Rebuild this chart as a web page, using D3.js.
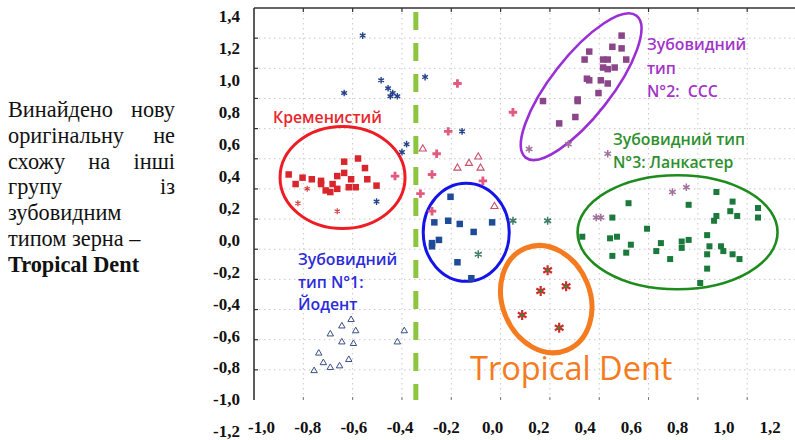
<!DOCTYPE html>
<html><head><meta charset="utf-8">
<script src="https://cdn.jsdelivr.net/npm/d3@7"></script>
<style>body{margin:0;background:#fff}svg{display:block}
.axlab text{font-family:"Liberation Serif","Times New Roman",serif !important;font-weight:bold !important;font-size:17px !important;fill:#111 !important}
</style>
</head><body><svg id="c" width="795" height="440"></svg>
<script>
// ---- tick labels ----
const xTicks = [-1.0,-0.8,-0.6,-0.4,-0.2,0.0,0.2,0.4,0.6,0.8,1.0,1.2];
const yTicks = [1.4,1.2,1.0,0.8,0.6,0.4,0.2,0.0,-0.2,-0.4,-0.6,-0.8,-1.0,-1.2];

// ---- series ----
const redX = [-0.88,-0.82,-0.78,-0.74,-0.69,-0.64,-0.64,-0.58,-0.55,-0.54,-0.61,-0.50,-0.70,-0.67,-0.62,-0.85,-0.74,-0.59,-0.67,-0.72];
const redY = [0.42,0.40,0.39,0.36,0.36,0.50,0.43,0.52,0.46,0.39,0.39,0.35,0.31,0.33,0.34,0.36,0.38,0.34,0.41,0.32];

const purpleX = [0.56,0.52,0.56,0.42,0.40,0.48,0.50,0.48,0.50,0.53,0.58,0.41,0.42,0.47,0.50,0.46,0.37,0.37,0.22,0.36,0.29];
const purpleY = [1.29,1.22,1.21,1.19,1.14,1.14,1.14,1.09,1.08,1.09,1.14,1.02,1.01,1.01,0.99,0.93,0.89,0.88,0.88,0.78,0.74];

const greenX = [0.59,0.85,0.97,1.04,1.03,1.06,1.15,1.15,0.96,0.97,0.52,0.67,0.39,0.51,0.54,0.60,0.58,0.52,0.73,0.71,0.77,0.82,0.85,0.82,0.93,0.94,0.93,0.99,1.00,1.04,1.07,0.93,0.90];
const greenY = [0.24,0.23,0.31,0.25,0.19,0.16,0.21,0.15,0.13,0.16,0.15,0.08,0.03,0.02,0.03,-0.02,-0.07,-0.09,-0.01,-0.06,-0.11,0.00,0.01,-0.04,0.04,-0.03,-0.08,-0.03,-0.06,-0.08,-0.11,-0.17,-0.26];

const blueX = [-0.18,-0.19,-0.25,-0.14,-0.08,0.00,-0.23,-0.26,-0.26,-0.15,-0.09];
const blueY = [0.28,0.13,0.12,0.11,0.06,0.12,0.01,-0.01,-0.03,-0.13,-0.23];

const tropX = [0.24,0.21,0.32,0.13,0.29];
const tropY = [-0.18,-0.31,-0.28,-0.46,-0.54];

const navyX = [-0.56,-0.29,-0.48,-0.45,-0.43,-0.44,-0.41,-0.64,-0.39,-0.37,-0.50,-0.13];
const navyY = [1.29,1.03,1.01,0.96,0.93,0.91,0.91,0.93,0.56,0.61,0.25,0.69];

const plusX = [-0.15,0.09,-0.19,-0.24,-0.26,-0.42,-0.04,-0.31,-0.26];
const plusY = [0.99,0.81,0.69,0.55,0.42,0.41,0.38,0.30,0.19];

const triX = [-0.30,-0.15,-0.10,-0.06,-0.05,0.01];
const triY = [0.58,0.46,0.49,0.53,0.46,0.22];

const dentX = [-0.61,-0.65,-0.70,-0.59,-0.65,-0.75,-0.62,-0.66,-0.70,-0.77,-0.38,-0.41,-0.73,-0.60];
const dentY = [-0.49,-0.53,-0.58,-0.56,-0.63,-0.70,-0.74,-0.78,-0.79,-0.81,-0.56,-0.63,-0.76,-0.64];

const tealX = [0.09,0.24,-0.06];
const tealY = [0.13,0.13,-0.08];

const mauveX = [0.78,0.84,0.45,0.47,0.33,0.16,0.50];
const mauveY = [0.31,0.34,0.15,0.15,0.61,0.58,0.55];

const redStarX = [-0.84,-0.67,-0.80];
const redStarY = [0.24,0.19,0.33];

const dividerX = -0.33;

// cluster outlines: centre in data units
const clusterNames = ["red","blue","green","purple","orange"];
const clusterCX = [-0.647,-0.112,0.802,0.385,0.234];
const clusterCY = [0.401,0.058,0.058,0.970,-0.361];

const leftText = ["Винайдено нову","оригінальну не","схожу на інші","групу із","зубовидним","типом зерна –","Tropical Dent"];

// ---- drawing ----
const svg = d3.select('#c');
const W = 795, H = 440;
const L = 254, T = 8, B = 400;
const x = d3.scaleLinear().domain([-1.03,1.31]).range([L, W]);
const y = d3.scaleLinear().domain([-0.993,1.463]).range([B, T]);
// original chart frame grid
const gx = d3.scaleLinear().domain([0,11]).range([L, 796.5]);
const gy = d3.scaleLinear().domain([0,13]).range([B, T]);

svg.append('rect').attr('width',W).attr('height',H).attr('fill','#fff');

// grid
const grid = svg.append('g');
d3.range(1,11).forEach(i=>{
  grid.append('line').attr('x1',gx(i)).attr('x2',gx(i)).attr('y1',T).attr('y2',B)
    .attr('stroke','#c8c8c8').attr('stroke-width',1).attr('stroke-dasharray','1.5,3.5');
});
d3.range(1,13).forEach(i=>{
  grid.append('line').attr('x1',L).attr('x2',W).attr('y1',gy(i)).attr('y2',gy(i))
    .attr('stroke','#c8c8c8').attr('stroke-width',1).attr('stroke-dasharray','1.5,3.5');
});
// frame
svg.append('line').attr('x1',L).attr('x2',L).attr('y1',T).attr('y2',B).attr('stroke','#333').attr('stroke-width',1.6);
svg.append('line').attr('x1',L).attr('x2',W).attr('y1',T).attr('y2',T).attr('stroke','#333').attr('stroke-width',1.6);
d3.range(1,13).forEach(i=>{
  svg.append('line').attr('x1',L).attr('x2',L+4).attr('y1',gy(i)).attr('y2',gy(i)).attr('stroke','#333').attr('stroke-width',1.2);
});
d3.range(1,11).forEach(i=>{
  svg.append('line').attr('x1',gx(i)).attr('x2',gx(i)).attr('y1',T).attr('y2',T+4).attr('stroke','#333').attr('stroke-width',1.2);
  svg.append('line').attr('x1',gx(i)).attr('x2',gx(i)).attr('y1',B-3).attr('y2',B).attr('stroke','#777').attr('stroke-width',1);
});

// divider
svg.append('line').attr('x1',x(dividerX)).attr('x2',x(dividerX)).attr('y1',T+4).attr('y2',B)
  .attr('stroke','#8cc63f').attr('stroke-width',5).attr('stroke-dasharray','18,13');

// axes labels
const fmt = d => (d < 0 ? '-' : '') + Math.abs(d).toFixed(1).replace('.', ',');
const serif = '"Liberation Serif", "Times New Roman", serif';
const axFont = g => {
  g.attr('font-family', serif).attr('font-size', 17).attr('font-weight','bold').attr('class','axlab');
  g.selectAll('text').attr('font-family', serif).attr('font-weight','bold').attr('font-size', 17).attr('fill','#111');
};
const xa = svg.append('g').attr('transform',`translate(0,${421})`)
  .call(d3.axisBottom(x).tickValues(xTicks).tickSize(0).tickPadding(0).tickFormat(fmt));
xa.select('.domain').remove(); axFont(xa);
const ya = svg.append('g').attr('transform',`translate(${L},0)`)
  .call(d3.axisLeft(y).tickValues(yTicks).tickSize(0).tickPadding(14).tickFormat(fmt));
ya.select('.domain').remove(); axFont(ya);
ya.selectAll('text').attr('dy','0.22em');

// ellipses
const ellStyle = {
  red:{rx:62.5, ry:51, rot:0, color:'#ee1c24', w:3},
  blue:{rx:43, ry:49, rot:0, color:'#1414e8', w:3},
  green:{rx:100, ry:57, rot:0, color:'#1d8c1d', w:2.6},
  purple:{rx:90, ry:30, rot:-52, color:'#9a2fd6', w:2.6},
  orange:{rx:55, ry:44, rot:68, color:'#f47b20', w:5}
};
clusterNames.forEach((n,i)=>{
  const s = ellStyle[n];
  svg.append('ellipse').attr('cx',0).attr('cy',0).attr('rx',s.rx).attr('ry',s.ry)
    .attr('transform',`translate(${x(clusterCX[i])},${y(clusterCY[i])}) rotate(${s.rot})`)
    .attr('fill','none').attr('stroke',s.color).attr('stroke-width',s.w);
});

const pts = (xs, ys) => xs.map((v,i)=>[v, ys[i]]);
function squares(xs, ys, color, s){
  svg.append('g').selectAll('rect').data(pts(xs,ys)).join('rect')
    .attr('x',d=>x(d[0])-s/2).attr('y',d=>y(d[1])-s/2).attr('width',s).attr('height',s).attr('fill',color);
}
function symbols(xs, ys, type, size, opts){
  svg.append('g').selectAll('path').data(pts(xs,ys)).join('path')
    .attr('d', d3.symbol(type, size))
    .attr('transform', d=>`translate(${x(d[0])},${y(d[1])})`)
    .attr('fill', opts.fill || 'none').attr('stroke', opts.stroke || 'none')
    .attr('stroke-width', opts.sw || 1).attr('opacity', opts.op || 1);
}

squares(redX, redY, '#d8262c', 6.5);
squares(purpleX, purpleY, '#8b4589', 6.5);
squares(greenX, greenY, '#1b7a3b', 6);
squares(blueX, blueY, '#1f4b99', 6.5);

symbols(navyX, navyY, d3.symbolAsterisk, 30, {stroke:'#23408a', sw:1.4});
symbols(plusX, plusY, d3.symbolCross, 40, {fill:'#e25a7e'});
symbols(triX, triY, d3.symbolTriangle, 22, {stroke:'#c8506a', sw:1.1});
symbols(dentX, dentY, d3.symbolTriangle, 18, {stroke:'#3a4f86', sw:1});
symbols(tealX, tealY, d3.symbolAsterisk, 45, {stroke:'#3d7b62', sw:1.5});
symbols(mauveX, mauveY, d3.symbolAsterisk, 40, {stroke:'#a0709a', sw:1.5});
symbols(redStarX, redStarY, d3.symbolAsterisk, 25, {stroke:'#d23a3a', sw:1.2});
symbols(tropX, tropY, d3.symbolAsterisk, 70, {stroke:'#d42a2a', sw:2.2});
symbols(tropX, tropY, d3.symbolCircle, 10, {fill:'#2f8a3a'});

// annotations
const ann = (tx, ty, lines, color, size, weight, lh) => {
  const t = svg.append('text').attr('font-family','"Open Sans", "Noto Sans", sans-serif')
    .attr('font-size',size+'px').attr('font-weight',weight).attr('fill',color);
  lines.forEach((s,i)=> t.append('tspan').attr('x',tx).attr('y',ty + i*lh).text(s));
};
ann(273, 122.5, ['Кременистий'], '#e8262b', 15.8, 600, 0);
ann(647, 50, ['Зубовидний','тип','N°2:\u00a0\u00a0CCC'], '#a234c8', 15.8, 600, 23.5);
ann(613, 145, ['Зубовидний тип','N°3: Ланкастер'], '#2d8f2d', 15.8, 600, 23);
ann(298, 265, ['Зубовидний','тип N°1:','Йодент'], '#2b2bd9', 15.8, 600, 22.5);
ann(470, 380, ['Tropical Dent'], '#f47b20', 32.5, 400, 0);

// left justified paragraph
const lt = svg.append('g').attr('font-family', serif).attr('font-size','22.3px').attr('fill','#111');
const left = 8, right = 175, base0 = 117, lh = 25.8;
leftText.forEach((line, i) => {
  const words = line.split(' ');
  const justify = i < 4;
  const bold = i === 6;
  const yy = base0 + i*lh;
  if (!justify) {
    lt.append('text').attr('x',left).attr('y',yy).attr('font-weight',bold?'bold':'normal').text(line);
    return;
  }
  const nodes = words.map(w => lt.append('text').attr('y',yy).text(w));
  const widths = nodes.map(n => n.node().getComputedTextLength());
  const gap = (right - left - d3.sum(widths)) / (words.length - 1);
  let cx = left;
  nodes.forEach((n,k)=>{ n.attr('x', cx); cx += widths[k] + gap; });
});
</script></body></html>
